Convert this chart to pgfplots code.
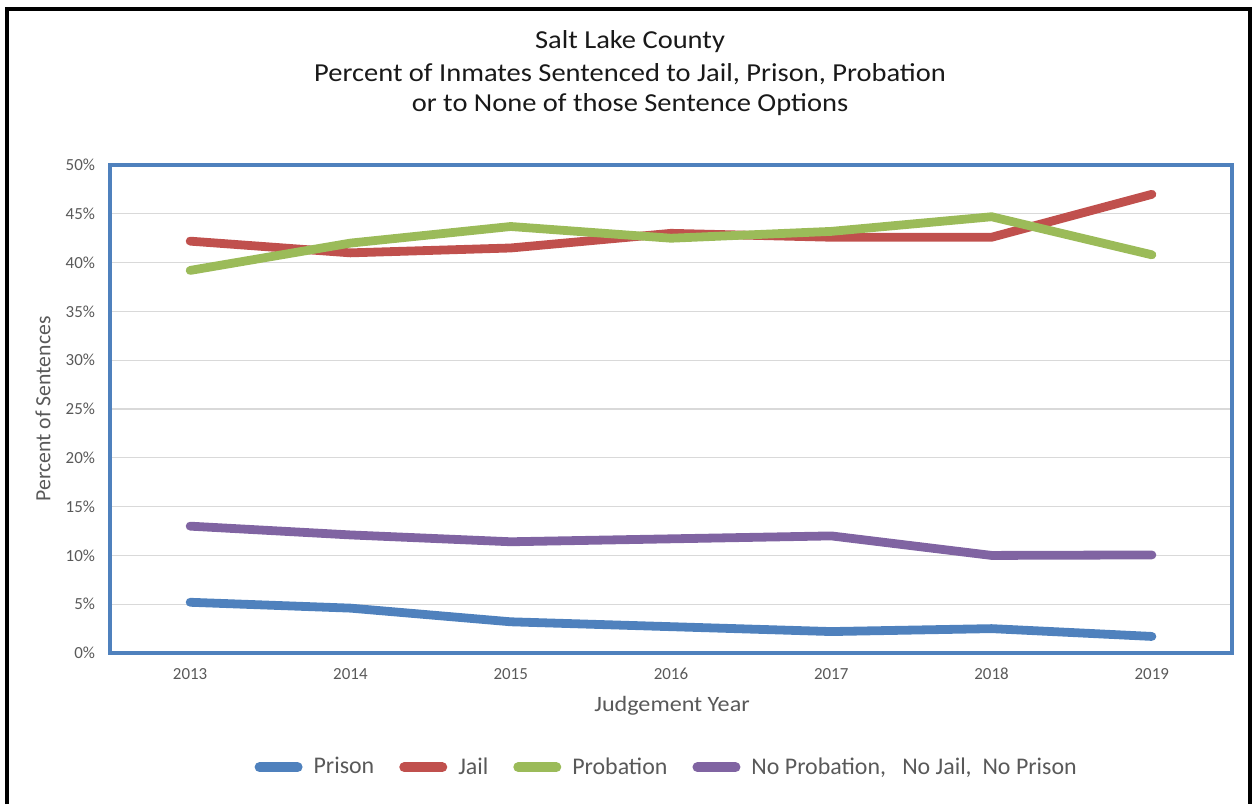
\documentclass[border=0pt]{standalone}
\usepackage{pgfplots}
\pgfplotsset{compat=1.18}
\usepackage{fontspec}
\setmainfont{Carlito}

\definecolor{cPrison}{HTML}{4F81BD}
\definecolor{cJail}{HTML}{C0504D}
\definecolor{cProb}{HTML}{9BBB59}
\definecolor{cNone}{HTML}{8064A2}
\definecolor{cFrame}{HTML}{4F81BD}
\definecolor{cGrid}{HTML}{D9D9D9}
\definecolor{cTick}{HTML}{595959}

\begin{document}
\begin{tikzpicture}
% page area, in pixel-like units (0.5bp each, y downward)
\begin{scope}[x=0.5bp,y=-0.5bp]
  \path[use as bounding box] (0,0) rectangle (1254,804);
  \draw[black, line width=1.6bp] (7,804) -- (7,9) -- (1250,9) -- (1250,804);
  \node[font=\fontsize{13}{15}\selectfont, text=black!90, xscale=1.1] at (630,42) {Salt Lake County};
  \node[font=\fontsize{13}{15}\selectfont, text=black!90, xscale=1.1] at (630,74) {Percent of Inmates Sentenced to Jail, Prison, Probation};
  \node[font=\fontsize{13}{15}\selectfont, text=black!90, xscale=1.1] at (630,105) {or to None of those Sentence Options};
  \node[font=\fontsize{10.9}{12}\selectfont, text=cTick, rotate=90] at (43,409) {Percent of Sentences};
  \node[font=\fontsize{11}{12}\selectfont, text=cTick, xscale=1.1] at (672,706) {Judgement Year};
\end{scope}

\begin{axis}[
  at={(55bp,-326.5bp)}, anchor=south west,
  scale only axis,
  width=561bp, height=244bp,
  xmin=2012.5, xmax=2019.5,
  ymin=0, ymax=50,
  xtick={2013,...,2019},
  ytick={0,5,...,50},
  yticklabel={\pgfmathprintnumber{\tick}\%},
  /pgf/number format/1000 sep={},
  /pgf/number format/assume math mode=true,
  major tick length=0pt,
  tick label style={font=\fontsize{8.5}{10}\selectfont, text=cTick},
  xticklabel style={yshift=-4bp},
  yticklabel style={xshift=-4bp},
  ymajorgrids,
  grid style={cGrid, line width=0.6bp},
  axis line style={cFrame, line width=2.2bp},
  every axis plot/.append style={line width=4.4bp, line cap=round, line join=round},
  legend columns=4,
  legend style={at={(0.497,-0.234)}, anchor=center, draw=none, fill=none,
    font=\fontsize{12}{14}\selectfont, text=cTick,
    /tikz/every odd column/.append style={column sep=3.5bp},
    /tikz/every even column/.append style={column sep=10.5bp}},
  legend image code/.code={\draw[#1, line width=5bp, line cap=round] (0bp,0bp) -- (19bp,0bp);},
]
\addplot[cPrison] coordinates {(2013,5.2) (2014,4.6) (2015,3.2) (2016,2.7) (2017,2.2) (2018,2.5) (2019,1.7)};
\addlegendentry{Prison}
\addplot[cJail] coordinates {(2013,42.2) (2014,41.0) (2015,41.5) (2016,43.0) (2017,42.6) (2018,42.6) (2019,47.0)};
\addlegendentry{Jail}
\addplot[cProb] coordinates {(2013,39.2) (2014,42.0) (2015,43.7) (2016,42.5) (2017,43.2) (2018,44.7) (2019,40.8)};
\addlegendentry{Probation}
\addplot[cNone] coordinates {(2013,13.0) (2014,12.1) (2015,11.4) (2016,11.7) (2017,12.0) (2018,10.0) (2019,10.05)};
\addlegendentry{No Probation,\ \ \ No Jail,\ \ No Prison}
\end{axis}
\end{tikzpicture}
\end{document}
